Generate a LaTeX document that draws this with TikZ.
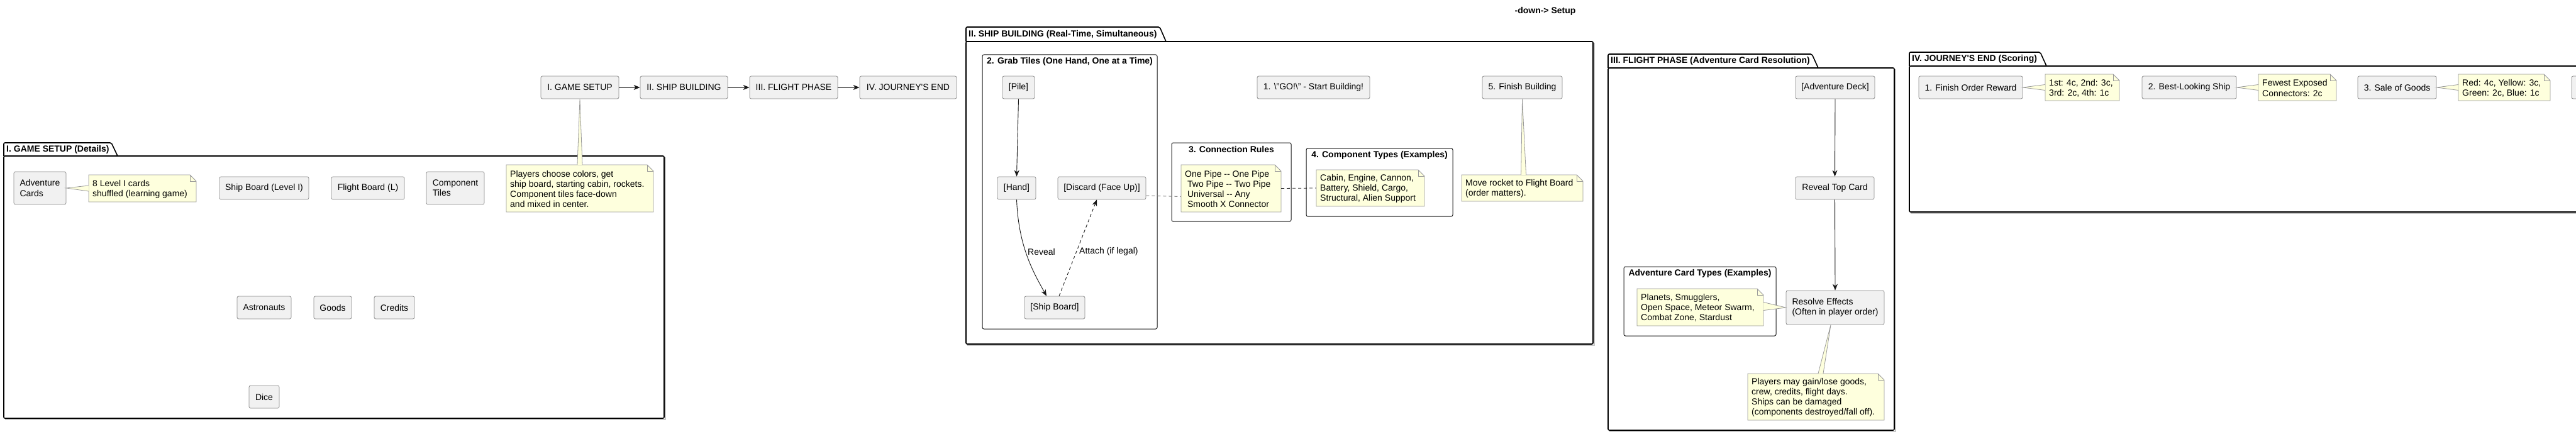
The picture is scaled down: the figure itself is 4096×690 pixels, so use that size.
\documentclass[tikz,border=0pt]{standalone}
\usepackage{fontspec}
\setmainfont{Liberation Sans}
\usetikzlibrary{arrows.meta,calc}
\definecolor{boxfill}{HTML}{F1F1F1}
\definecolor{boxline}{HTML}{8A8A8A}
\definecolor{notefill}{HTML}{FEFFDD}
\definecolor{noteline}{HTML}{9A9A9A}
\definecolor{ink}{HTML}{181818}
\newcommand\fs{\fontsize{14}{16.2}\selectfont}
\tikzset{
  box/.style={draw=boxline, fill=boxfill, line width=0.8pt, rounded corners=2.5pt, inner sep=0pt, font=\fs, align=left, text=black},
  notearea/.style={inner sep=0pt, draw=none},
  notetext/.style={inner sep=0pt, font=\fs, align=left, anchor=west},
  noteshape/.style={fill=notefill, draw=noteline, line width=0.8pt},
  pkgline/.style={draw=black, line width=1.6pt, rounded corners=2pt},
  pkgshadow/.style={draw=black!22, line width=1.6pt},
  grpbox/.style={draw=ink, line width=1pt, rounded corners=2.5pt, inner sep=0pt},
  ttl/.style={font=\fs\bfseries, inner sep=0pt},
  flow/.style={draw=ink, line width=0.9pt, -{Stealth[length=10pt,width=8pt,inset=3pt]}},
  lbl/.style={font=\fs, inner sep=0pt, anchor=west},
  dsh/.style={dash pattern=on 5pt off 4pt},
}
% box: name x1 y1 x2 y2 text
\newcommand\bx[6]{\node[box, minimum width={#4-#2}, minimum height={#5-#3}] (#1) at ({(#2+#4)/2},{(#3+#5)/2}) {#6};}
% note: name x1 y1 x2 y2 text
\newcommand\nt[6]{%
  \path[noteshape] (#2,#3) -- ({#4-10},#3) -- (#4,{#3+10}) -- (#4,#5) -- (#2,#5) -- cycle;
  \draw[draw=noteline, line width=0.8pt] ({#4-10},#3) -- ({#4-10},{#3+10}) -- (#4,{#3+10});
  \node[notearea, minimum width={#4-#2}, minimum height={#5-#3}] (#1) at ({(#2+#4)/2},{(#3+#5)/2}) {};
  \node[notetext] (#1-t) at ({#2+6},{(#3+#5)/2+1}) {#6};}
% group: name x1 y1 x2 y2 title
\newcommand\grp[6]{%
  \node[grpbox, minimum width={#4-#2}, minimum height={#5-#3}] (#1) at ({(#2+#4)/2},{(#3+#5)/2}) {};
  \node[ttl] (#1-title) at ({(#2+#4)/2},{#3+11}) {#6};}
% package: name x1 tabtop tabright bodytop x2 y2 title
\newcommand\pkg[8]{%
  \draw[pkgshadow] ({#2+2},{#7+2}) -- ({#6+2},{#7+2}) -- ({#6+2},{#5+2});
  \draw[pkgline] (#2,#5) rectangle (#6,#7);
  \draw[pkgline] (#2,#5) -- (#2,#3) -- ({#4-10},#3) -- (#4,#5);
  \node[ttl, anchor=west] (#1) at ({#2+4},{(#3+#5)/2}) {#8};}
% note link wedge: apex, base1, base2
\newcommand\notelink[3]{%
  \fill[notefill] (#1) -- (#2) -- (#3) -- cycle;
  \draw[draw=noteline, line width=0.8pt] (#2) -- (#1) -- (#3);}

\begin{document}
\begin{tikzpicture}[x=1pt,y=-1pt]
\useasboundingbox (0,0) rectangle (4096,690);
\clip (0,0) rectangle (4096,690);

% header
\node[ttl] (hdr) at (2457,18) {-down-> Setup};

% packages
\pkg{pkgI}{6}{227}{187}{248}{1056}{665}{I. GAME SETUP (Details)}
\pkg{pkgII}{1536}{43}{1854}{66}{2533}{547}{II. SHIP BUILDING (Real-Time, Simultaneous)}
\pkg{pkgIII}{2557}{86}{2891}{108}{3012}{684}{III. FLIGHT PHASE (Adventure Card Resolution)}
\pkg{pkgIV}{3036}{83}{3254}{105}{4160}{337}{IV. JOURNEY\textquotesingle S END (Scoring)}

% groups
\grp{grab}{1562}{87}{1840}{523}{2. Grab Tiles (One Hand, One at a Time)}
\grp{conn}{1863}{227}{2053}{352}{3. Connection Rules}
\grp{comp}{2077}{236}{2310}{344}{4. Component Types (Examples)}
\grp{advtypes}{2582}{424}{2824}{534}{Adventure Card Types (Examples)}

% main flow
\bx{setup}{860}{121}{984}{157}{I. GAME SETUP}
\bx{build}{1018}{121}{1157}{157}{II. SHIP BUILDING}
\bx{flight}{1192}{121}{1332}{157}{III. FLIGHT PHASE}
\bx{journey}{1367}{121}{1521}{157}{IV. JOURNEY\textquotesingle S END}

% setup details
\bx{advcards}{22}{273}{105}{325}{Adventure\\Cards}
\bx{shipL}{349}{281}{491}{317}{Ship Board (Level I)}
\bx{flightL}{527}{281}{643}{317}{Flight Board (L)}
\bx{tiles}{678}{273}{770}{325}{Component\\Tiles}
\bx{astro}{377}{471}{463}{507}{Astronauts}
\bx{goods}{499}{471}{559}{507}{Goods}
\bx{credits}{595}{471}{659}{507}{Credits}
\bx{dice}{396}{613}{444}{649}{Dice}

% ship building
\bx{pile}{1594}{121}{1645}{157}{[Pile]}
\bx{go}{1999}{121}{2178}{157}{1. \textbackslash"GO!\textbackslash" - Start Building!}
\bx{finish}{2357}{121}{2484}{157}{5. Finish Building}
\bx{hand}{1586}{281}{1647}{317}{[Hand]}
\bx{discard}{1682}{281}{1822}{317}{[Discard (Face Up)]}
\bx{shipboard}{1629}{471}{1725}{507}{[Ship Board]}

% flight
\bx{deck}{2855}{121}{2981}{157}{[Adventure Deck]}
\bx{reveal}{2855}{281}{2980}{317}{Reveal Top Card}
\bx{resolve}{2840}{462}{2996}{516}{Resolve Effects\\(Often in player order)}

% journey's end
\bx{order}{3051}{121}{3216}{157}{1. Finish Order Reward}
\bx{looking}{3406}{121}{3556}{157}{2. Best-Looking Ship}
\bx{sale}{3749}{121}{3874}{157}{3. Sale of Goods}
\bx{cut}{4089}{121}{4160}{157}{}

% notes
\nt{n8}{141}{278}{312}{321}{8 Level I cards\\shuffled (learning game)}
\nt{nplayers}{805}{262}{1039}{337}{Players choose colors, get\\ship board, starting cabin, rockets.\\Component tiles face-down\\and mixed in center.}
\nt{npipe}{1878}{262}{2037}{337}{One Pipe -{}- One Pipe\\\hspace*{3.9pt}Two Pipe -{}- Two Pipe\\\hspace*{3.9pt}Universal -{}- Any\\\hspace*{3.9pt}Smooth X Connector}
\nt{ncabin}{2093}{270}{2265}{328}{Cabin, Engine, Cannon,\\Battery, Shield, Cargo,\\Structural, Alien Support}
\nt{nmove}{2324}{278}{2517}{320}{Move rocket to Flight Board\\(order matters).}
\nt{nplanets}{2603}{459}{2804}{518}{Planets, Smugglers,\\Open Space, Meteor Swarm,\\Combat Zone, Stardust}
\nt{ngain}{2779}{594}{2996}{668}{Players may gain/lose goods,\\crew, credits, flight days.\\Ships can be damaged\\(components destroyed/fall off).}
\nt{n1st}{3252}{118}{3370}{160}{1st: 4c, 2nd: 3c,\\3rd: 2c, 4th: 1c}
\nt{nfewest}{3591}{118}{3715}{160}{Fewest Exposed\\Connectors: 2c}
\nt{nred}{3909}{118}{4055}{160}{Red: 4c, Yellow: 3c,\\Green: 2c, Blue: 1c}

% note links
\notelink{advcards.east}{$(n8.west)+(0,-4.5)$}{$(n8.west)+(0,4.5)$}
\notelink{setup.south}{$(nplayers.north)+(-4,0)$}{$(nplayers.north)+(4,0)$}
\notelink{finish.south}{$(nmove.north)+(-2,0)$}{$(nmove.north)+(6,0)$}
\notelink{resolve.west}{$(nplanets.east)+(0,-8)$}{$(nplanets.east)+(0,5)$}
\notelink{$(resolve.south)+(-7,0)$}{$(ngain.north)+(3.5,0)$}{$(ngain.north)+(11.5,0)$}
\notelink{order.east}{$(n1st.west)+(0,-4.5)$}{$(n1st.west)+(0,4.5)$}
\notelink{looking.east}{$(nfewest.west)+(0,-4.5)$}{$(nfewest.west)+(0,4.5)$}
\notelink{sale.east}{$(nred.west)+(0,-4.5)$}{$(nred.west)+(0,4.5)$}

% arrows
\draw[flow] (setup.east) -- (build.west);
\draw[flow] (build.east) -- (flight.west);
\draw[flow] (flight.east) -- (journey.west);
\draw[flow] (pile.south) -- (hand.north);
\draw[flow] (hand.south) .. controls ($(hand.south)+(3,75)$) and ($(shipboard.north)+(-34,-38)$) .. ($(shipboard.north)+(-13,0)$);
\node[lbl] (lreveal) at (1634,400) {Reveal};
\draw[flow, dsh] ($(shipboard.north)+(7,0)$) -- ($(discard.south)+(-8,0)$);
\node[lbl] (lattach) at (1716,400) {Attach (if legal)};
\draw[flow] (deck.south) -- (reveal.north);
\draw[flow] (reveal.south) -- (resolve.north);

% dashed note connections
\draw[draw=boxline, line width=1pt, dsh] ($(discard.east)+(0,12)$) -- ($(npipe.west)+(0,13)$);
\draw[draw=ink, line width=0.8pt, dsh] (npipe.east) -- (ncabin.west);
\end{tikzpicture}
\end{document}
